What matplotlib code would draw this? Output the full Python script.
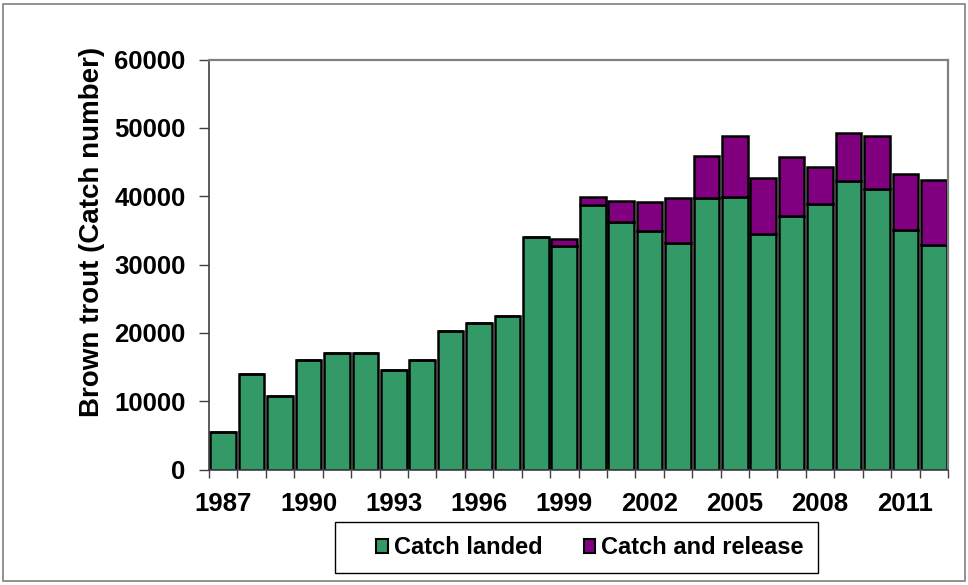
import numpy as np
import matplotlib.pyplot as plt
from matplotlib.patches import Rectangle

plt.rcParams['font.family'] = ['Liberation Sans', 'DejaVu Sans']
plt.rcParams['font.weight'] = 'bold'

years = list(range(1987, 2013))
landed = [5500, 14000, 10700, 16000, 17000, 17100, 14500, 16000, 20300, 21400,
          22500, 34000, 32700, 38700, 36200, 34900, 33200, 39800, 39900, 34500,
          37100, 38800, 42200, 41000, 35000, 32800]
total = [5500, 14000, 10700, 16000, 17000, 17100, 14500, 16000, 20300, 21400,
         22500, 34000, 33700, 39900, 39300, 39200, 39700, 45900, 48800, 42700,
         45700, 44300, 49200, 48800, 43200, 42300]
released = [t - l for t, l in zip(total, landed)]

green = '#339966'
purple = '#800080'

W, H = 968, 585
fig = plt.figure(figsize=(W / 100, H / 100), dpi=100)
# outer chart border
fig.patches.append(Rectangle((3 / W, 1 - 581 / H), 962 / W, 577 / H, transform=fig.transFigure,
                             fill=False, edgecolor='#808080', linewidth=1.2))
ax = fig.add_axes([209 / W, 1 - 469.5 / H, 739 / W, 410 / H])

x = np.arange(len(years))
ax.bar(x, landed, width=0.9, color=green, edgecolor='black', linewidth=1.8,
       label='Catch landed')
ax.bar(x, released, bottom=landed, width=0.9, color=purple, edgecolor='black',
       linewidth=1.8, label='Catch and release')

ax.set_xlim(-0.5, len(years) - 0.5)
ax.set_ylim(0, 60000)
ax.set_yticks(range(0, 60001, 10000))
ax.set_xticks(x[::3])
ax.set_xticklabels([str(y) for y in years[::3]])
ax.set_xticks(np.arange(-0.5, len(years)), minor=True)
ax.tick_params(axis='x', which='major', length=0, pad=16, labelsize=18.5)
ax.tick_params(axis='x', which='minor', length=6, width=1, color='#404040')
ax.tick_params(axis='y', length=7, width=1, color='#404040', labelsize=18.5, pad=10)

for s in ['top', 'right']:
    ax.spines[s].set_color('#808080')
    ax.spines[s].set_linewidth(1.6)
for s in ['left', 'bottom']:
    ax.spines[s].set_color('#404040')
    ax.spines[s].set_linewidth(1.2)

fig.text(92 / W, 1 - 232 / H, 'Brown trout (Catch number)', rotation=90,
         ha='center', va='center', fontsize=20, fontweight='bold')

# legend frame drawn separately so it matches the box size
fig.patches.append(Rectangle((335 / W, 1 - 573 / H), 483 / W, 51 / H, transform=fig.transFigure,
                             fill=False, edgecolor='black', linewidth=1.0))
leg = fig.legend(loc='center left', bbox_to_anchor=(376 / W, 1 - 548 / H), ncol=2, fontsize=17,
                 frameon=False, handlelength=0.5, handleheight=0.5, handletextpad=0.25,
                 columnspacing=1.75, borderpad=0, borderaxespad=0)
for h in leg.legend_handles:
    h.set_linewidth(1.5)

fig.savefig('out.png', dpi=100)
